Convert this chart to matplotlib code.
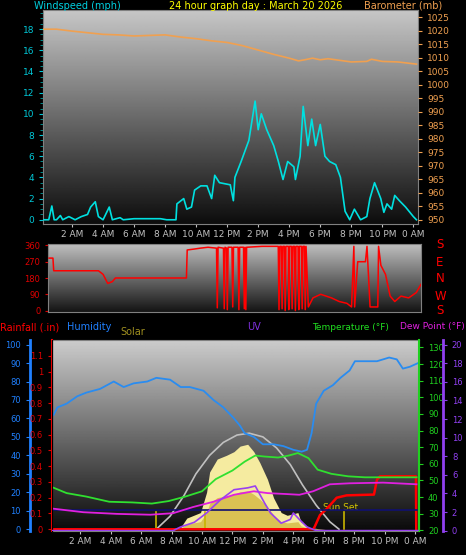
import numpy as np
import matplotlib
matplotlib.use("Agg")
import matplotlib.pyplot as plt

W, H = 466, 555
title = "24 hour graph day : March 20 2026"
hour_ticks = [2, 4, 6, 8, 10, 12, 14, 16, 18, 20, 22, 24]
hour_labels = ["2 AM", "4 AM", "6 AM", "8 AM", "10 AM", "12 PM", "2 PM", "4 PM", "6 PM", "8 PM", "10 PM", "0 AM"]

wind_t = [0.18, 0.5, 0.7, 0.85, 1.0, 1.25, 1.4, 1.8, 2.2, 2.6, 3.0, 3.2, 3.5, 3.7, 4.0, 4.4, 4.6, 5.1, 5.3, 6.0, 7.7, 8.1, 8.7, 8.76, 9.2, 9.4, 9.7, 9.9, 10.3, 10.7, 11.0, 11.2, 11.5, 12.2, 12.4, 12.5, 12.9, 13.4,
          13.8, 14.0, 14.2, 14.55, 15.0, 15.3, 15.6, 15.9, 16.3, 16.4, 16.7, 16.9, 17.2, 17.45, 17.7, 18.0, 18.3, 18.6, 19.0, 19.3, 19.6,
          19.9, 20.2, 20.6, 21.0, 21.2, 21.5, 21.9, 22.1, 22.3, 22.6, 22.8, 23.1, 23.5, 24.0, 24.2]
wind_v = [0, 0, 1.3, 0, 0, 0.4, 0, 0.3, 0, 0.3, 0.5, 1.2, 1.7, 0.3, 0, 1.2, 0, 0.2, 0, 0.1, 0.1, 0, 0, 1.5, 2.0, 1.0, 1.2, 2.8, 3.2, 3.2, 2.0, 4.2, 3.5, 3.3, 1.8, 4.0, 5.5, 7.5,
          11.2, 8.5, 10.0, 8.5, 7.0, 5.5, 3.8, 5.5, 5.0, 3.8, 6.0, 10.7, 7.0, 9.5, 7.0, 9.0, 6.0, 5.5, 5.2, 4.0, 0.8,
          0, 1.0, 0, 0.3, 2.0, 3.5, 2.0, 0.7, 1.5, 1.0, 2.3, 1.8, 1.2, 0.3, 0]

baro_t = [0.15, 1, 2, 3, 4, 5, 6, 7, 8, 9, 10, 11, 12, 13, 14, 15, 16, 16.6, 17, 17.5, 18, 18.5, 19, 20, 21, 21.3, 22, 23, 24.2]
baro_v = [1020.5, 1020.5, 1019.8, 1019.2, 1018.6, 1018.4, 1018.0, 1018.2, 1018.4, 1017.6, 1017.0, 1016.2, 1015.6, 1014.4, 1012.8, 1011.2, 1009.8, 1008.8, 1009.2, 1009.8, 1009.2, 1009.6, 1009.2, 1008.4, 1008.6, 1009.4, 1008.6, 1008.4, 1007.6]

dir_t = [0.2, 0.45, 0.5, 3.4, 3.7, 4.0, 4.3, 4.5, 9.1, 9.15, 9.6, 10.0, 10.5, 11.05, 11.1, 11.15, 11.5, 11.55, 11.6, 11.7, 11.75, 11.8, 12.05, 12.1, 12.15,
         12.45, 12.5, 12.55, 12.8, 12.85, 12.9, 12.95, 13.0, 14.0, 15.05, 15.1, 15.15, 15.25, 15.3, 15.35, 15.45, 15.5, 15.55, 15.7, 15.73, 15.78, 15.9, 15.95, 16.0,
         16.1, 16.16, 16.2, 16.33, 16.38, 16.42, 16.55, 16.6, 16.65, 16.75, 16.8, 16.85, 17.0, 17.3, 17.8, 18.5, 19.0, 19.5, 19.8, 19.95, 20.0, 20.2, 20.7, 20.8, 21.0, 21.5, 21.55, 21.7, 22.0, 22.3, 22.6, 23.0, 23.5, 24.0, 24.3]
dir_v = [290, 290, 220, 220, 200, 150, 160, 180, 180, 335, 340, 345, 350, 345, 15, 350, 345, 10, 350, 345, 5, 350, 350, 20, 350,
         350, 5, 350, 350, 10, 350, 5, 350, 355, 355, 5, 355, 355, 10, 355, 355, 0, 355, 355, 5, 355, 355, 10, 355,
         355, 0, 355, 355, 5, 355, 355, 10, 355, 355, 5, 355, 20, 70, 90, 70, 50, 40, 20, 355, 20, 270, 270, 355, 20, 20, 355, 250, 200, 80, 50, 80, 70, 100, 145]

hum_t = [0.25, 0.5, 1.1, 1.8, 2.4, 3.3, 4.2, 4.85, 5.5, 6.4, 7.0, 7.9, 8.6, 9.2, 10.1, 10.75, 11.4, 12.1, 12.5, 12.8, 13.4, 14.0, 14.7, 15.35, 16.0, 16.55, 16.9, 17.2, 17.5, 18.0, 18.6, 19.1, 19.7, 20.05, 20.8, 21.5, 22.3, 22.8, 23.2, 23.66, 24.2]
hum_v = [62, 66, 68, 72, 74, 76, 80, 77, 79, 80, 82, 81, 77, 77, 75, 70, 66, 60, 56, 52, 50, 46, 46, 45, 43, 42, 43, 52, 68, 75, 78, 82, 86, 91, 91, 91, 93, 92, 87, 88, 90]

temp_t = [0.25, 1.1, 2.4, 3.9, 5.4, 6.7, 7.8, 8.9, 10.0, 10.9, 12.0, 12.8, 13.5, 14.1, 15.0, 15.7, 16.3, 17.0, 17.6, 18.5, 19.6, 20.7, 21.8, 24.1]
temp_v = [45.6, 42.4, 40.3, 37.2, 36.8, 36.1, 37.6, 40.3, 43.5, 50.8, 56.0, 61.3, 65.0, 64.4, 63.8, 65.0, 66.5, 63.4, 56.5, 54.0, 52.5, 51.9, 51.9, 51.9]

dew_t = [0.25, 2.2, 4.4, 6.6, 8.1, 9.4, 10.75, 12.1, 13.4, 14.3, 15.6, 16.4, 17.3, 18.4, 19.7, 21.9, 24.1]
dew_v = [33.0, 30.9, 29.9, 29.4, 30.3, 34.0, 37.2, 41.4, 43.5, 42.4, 41.8, 41.4, 43.5, 47.7, 48.3, 48.7, 47.7]

uv_t = [0.15, 8.1, 8.6, 9.5, 10.3, 11.2, 12.1, 13.0, 13.5, 14.1, 14.5, 15.2, 15.8, 16.0, 16.4, 16.9, 17.5, 24.2]
uv_v = [0, 0, 0.4, 0.9, 1.9, 3.3, 4.4, 4.6, 4.8, 3.0, 1.9, 0.8, 1.2, 1.9, 1.2, 0.4, 0, 0]

solar_t = [8.1, 8.6, 9.0, 9.9, 10.3, 10.5, 11.0, 11.6, 12.1, 12.5, 13.0, 13.4, 13.8, 14.3, 14.7, 15.2, 15.6, 16.3, 16.5, 17.0, 17.6, 18.1]
solar_v = [0, 1, 6, 9, 20, 31, 38, 40, 42, 45, 46, 42, 36, 27, 17, 9, 7.5, 9, 4, 1, 0.3, 0]

solmax_t = [7.0, 7.9, 8.8, 9.6, 10.5, 11.4, 12.3, 13.1, 14.0, 14.9, 15.8, 16.6, 17.5, 18.4, 19.0]
solmax_v = [0, 7, 18, 30, 40, 47, 51, 52, 50, 44, 35, 24, 13, 4, 0]

rain_t = [0.15, 17.3, 17.4, 17.75, 18.2, 18.85, 19.5, 21.3, 21.5, 21.7, 24.06, 24.08]
rain_v = [0, 0, 0.015, 0.09, 0.13, 0.2, 0.215, 0.22, 0.315, 0.336, 0.336, 0]

sun_marks = [7.0, 10.2, 19.3]

fig = plt.figure(figsize=(W / 100, H / 100), dpi=100, facecolor="black")


def ax_at(l, r, t, b):
    return fig.add_axes([l / W, 1 - b / H, (r - l) / W, (b - t) / H])


def gradient(ax, top=0.80, bot=0.06):
    g = np.linspace(top, bot, 256).reshape(-1, 1)
    ax.imshow(g, cmap="gray", vmin=0, vmax=1, aspect="auto", extent=[0, 1, 0, 1],
              transform=ax.transAxes, zorder=0, interpolation="bilinear")


def style_x(ax, show):
    ax.set_xlim(0.13, 24.3)
    ax.set_xticks(hour_ticks)
    if show:
        ax.set_xticklabels(hour_labels)
    else:
        ax.set_xticklabels([])
    ax.tick_params(axis="x", colors="#c0c0c0", labelsize=6.5, length=2, pad=2)
    for s in ax.spines.values():
        s.set_color("#808080")


# ---------- top panel ----------
ax1 = ax_at(43, 418, 10, 224)
gradient(ax1, 0.78, 0.05)
style_x(ax1, True)
ax1.plot(wind_t, wind_v, color="#00e0e0", lw=1.2, zorder=3)
ax1.set_ylim(-0.4, 19.8)
ax1.set_yticks(range(0, 19, 2))
ax1.tick_params(axis="y", colors="#00c8d8", labelsize=6.5, length=3)
ax1.set_yticks(np.arange(0, 19.8, 0.5), minor=True)
ax1.tick_params(axis="y", which="minor", colors="#00a0a0", length=2)
ax1b = ax1.twinx()
ax1b.plot(baro_t, baro_v, color="#f0a050", lw=1.2, zorder=3)
ax1b.set_ylim(948.5, 1027.6)
ax1b.set_yticks(range(950, 1026, 5))
ax1b.tick_params(axis="y", colors="#f0a050", labelsize=6.5, length=3)
for s in ax1b.spines.values():
    s.set_visible(False)
fig.text(34 / W, 1 - 6 / H, "Windspeed (mph)", color="#00d0e0", fontsize=7, va="center")
fig.text(256 / W, 1 - 6 / H, title, color="yellow", fontsize=7, va="center", ha="center")
fig.text(442 / W, 1 - 6 / H, "Barometer (mb)", color="#f0a050", fontsize=7, va="center", ha="right")

# ---------- middle panel ----------
ax2 = ax_at(48, 421, 244, 312)
gradient(ax2, 0.75, 0.08)
style_x(ax2, False)
ax2.tick_params(axis="x", length=0)
ax2.plot(dir_t, dir_v, color="red", lw=1.1, zorder=3)
ax2.set_ylim(-8, 368)
ax2.set_yticks([0, 90, 180, 270, 360])
ax2.tick_params(axis="y", colors="#e00000", labelsize=6, length=2)
for ch, y in zip("SENWS", [245, 263, 279, 296, 311]):
    fig.text(440 / W, 1 - y / H, ch, color="red", fontsize=8.5, ha="center", va="center")

# ---------- bottom panel ----------
ax3 = ax_at(52, 419, 340, 531)
gradient(ax3, 0.80, 0.04)
style_x(ax3, True)
ax3.set_xlim(0.14, 24.26)
ax3.set_ylim(-1, 102.5)
ax3.set_yticks(range(0, 101, 10))
ax3.spines["left"].set_position(("axes", -0.06))
ax3.spines["left"].set_color("#2080ff")
ax3.spines["left"].set_linewidth(2)
ax3.tick_params(axis="y", colors="#2080ff", labelsize=6, length=3)
ax3.fill_between(solar_t, solar_v, color="#f5eba0", zorder=2, lw=0)
ax3.fill_between(solar_t, np.array(solar_v) * 0.45, color="#c8a820", zorder=2, lw=0, alpha=0.6)
ax3.plot(solmax_t, solmax_v, color="#c0c0c0", lw=1.2, zorder=3)
ax3.plot(hum_t, hum_v, color="#2a8cf0", lw=1.3, zorder=4)
for m in sun_marks:
    ax3.plot([m, m], [0, 9.5], color="#c8b400", lw=1.2, zorder=3)
ax3.text(19.1, 11.5, "Sun Set", color="#d8c800", fontsize=6.5, ha="center", va="center", zorder=6)

axr = ax3.twinx()
axr.set_ylim(-0.011, 1.2)
axr.set_yticks(np.arange(0, 1.11, 0.1))
axr.set_yticklabels(["0", "0.1", "0.2", "0.3", "0.4", "0.5", "0.6", "0.7", "0.8", "0.9", "1", "1.1"])
axr.yaxis.set_ticks_position("left")
axr.yaxis.set_label_position("left")
axr.spines["left"].set_visible(True)
axr.spines["left"].set_color("red")
axr.spines["left"].set_linewidth(1.5)
axr.spines["right"].set_visible(False)
axr.tick_params(axis="y", colors="#e00000", labelsize=6, length=3)
axr.plot(rain_t, rain_v, color="red", lw=1.8, zorder=5)

axt = ax3.twinx()
axt.set_ylim(19.6, 134.5)
axt.set_yticks(range(20, 131, 10))
axt.spines["right"].set_color("#20d020")
axt.spines["right"].set_linewidth(1.5)
axt.tick_params(axis="y", colors="#20d020", labelsize=6, length=3)
axt.axhline(32, color="#101070", lw=1.2, zorder=2)
axt.plot(temp_t, temp_v, color="#30e030", lw=1.3, zorder=4)
axt.plot(dew_t, dew_v, color="#e020e0", lw=1.3, zorder=4)

axu = ax3.twinx()
axu.set_ylim(-0.04, 20.5)
axu.set_yticks(range(0, 21, 2))
axu.spines["right"].set_position(("axes", 1.065))
axu.spines["right"].set_color("#9040f0")
axu.spines["right"].set_linewidth(2)
axu.tick_params(axis="y", colors="#9040f0", labelsize=6, length=3)
axu.plot(uv_t, uv_v, color="#9a40f0", lw=1.2, zorder=4)
for a in (axr, axt, axu):
    a.spines["top"].set_visible(False)
    a.spines["bottom"].set_visible(False)

fy = 1 - 327 / H
fig.text(0, fy, "Rainfall (.in)", color="red", fontsize=7, va="center")
fig.text(67 / W, fy, "Humidity", color="#2080ff", fontsize=7, va="center")
fig.text(120 / W, 1 - 332 / H, "Solar", color="#a09020", fontsize=7, va="center")
fig.text(254 / W, fy, "UV", color="#8030e0", fontsize=7, va="center", ha="center")
fig.text(312 / W, fy, "Temperature (°F)", color="#20e020", fontsize=6.5, va="center")
fig.text(465 / W, fy, "Dew Point (°F)", color="#e020e0", fontsize=6.5, va="center", ha="right")

fig.savefig("out.png", dpi=100, facecolor="black")
